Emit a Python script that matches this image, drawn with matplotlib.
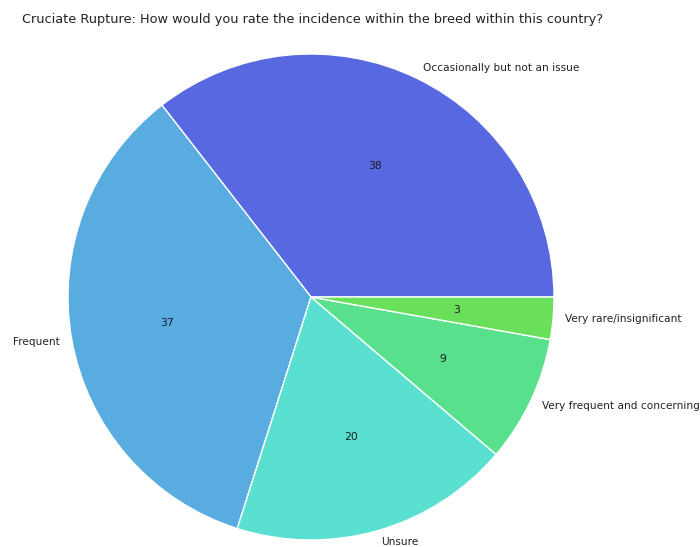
import matplotlib
matplotlib.use("Agg")
import matplotlib.pyplot as plt

categories = ["Occasionally but not an issue", "Frequent", "Unsure",
              "Very frequent and concerning", "Very rare/insignificant"]
values = [38, 37, 20, 9, 3]
colors = ["#5868E0", "#58ACE0", "#5AE0D0", "#58E08C", "#6AE05A"]
title = "Cruciate Rupture: How would you rate the incidence within the breed within this country?"

W, H = 700, 547
fig = plt.figure(figsize=(W / 100, H / 100), dpi=100)
cx, cy, r = 311, 547 - 297, 243
ax = fig.add_axes([(cx - r) / W, (cy - r) / H, 2 * r / W, 2 * r / H])

total = sum(values)
wedges, texts, autotexts = ax.pie(
    values, labels=categories, colors=colors, startangle=0, counterclock=True,
    labeldistance=1.05, pctdistance=0.6,
    autopct=lambda p: f"{round(p * total / 100):d}",
    wedgeprops=dict(edgecolor="white", linewidth=1),
    textprops=dict(fontsize=7.6, color="#222222"))
for t in autotexts:
    t.set_color("#1c1c2c")
    t.set_fontsize(7.8)
ax.set_xlim(-1, 1)
ax.set_ylim(-1, 1)
ax.set_aspect("equal")
ax.axis("off")

fig.text(22 / W, 1 - 20 / H, title, ha="left", va="center", fontsize=9.3, color="#222222")
fig.savefig("out.png", dpi=100)
